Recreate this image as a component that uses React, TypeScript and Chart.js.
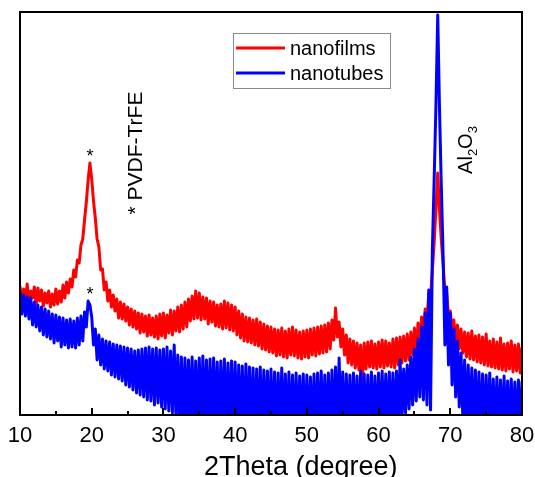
import React, { useEffect, useRef } from 'react';
import { Chart, registerables } from 'chart.js';

Chart.register(...registerables);

const FONT = '"Liberation Sans", Arial, Helvetica, sans-serif';

// 2-theta sampling grid (degrees)
const TWO_THETA_START = 10;
const TWO_THETA_STEP = 0.25;

const X_MIN = 10;
const X_MAX = 80;
const X_MINOR_TICKS = [15, 25, 35, 45, 55, 65, 75];
const Y_MIN = 0;
const Y_MAX = 403;

const X_TITLE = '2Theta (degree)';
const SERIES_LABELS = ['nanofilms', 'nanotubes'];
const SERIES_COLORS = ['#ff0000', '#0000ff'];

// intensity (a.u.), one value per 0.25 degree from 10 to 80
const NANOFILMS = [
  129, 113, 126, 115, 131, 112, 124, 117, 128, 110, 127, 114, 125, 109, 122, 112,
  124, 108, 121, 110, 126, 111, 124, 113, 130, 117, 133, 122, 136, 128, 145, 138,
  155, 152, 170, 176, 195, 213, 235, 252, 236, 214, 197, 176, 168, 145, 146, 125,
  133, 114, 125, 108, 120, 104, 116, 97, 113, 96, 111, 94, 108, 90, 106, 88,
  104, 86, 102, 82, 101, 83, 99, 79, 100, 80, 97, 78, 99, 76, 101, 79,
  102, 77, 100, 82, 105, 80, 104, 84, 108, 83, 110, 86, 113, 88, 116, 94,
  119, 96, 124, 97, 122, 95, 118, 96, 117, 91, 114, 93, 113, 89, 110, 88,
  111, 86, 114, 87, 112, 85, 110, 84, 108, 80, 104, 77, 101, 74, 98, 73,
  97, 72, 95, 70, 96, 69, 93, 66, 91, 65, 89, 63, 88, 62, 86, 59,
  85, 60, 87, 58, 84, 57, 86, 60, 88, 59, 85, 57, 83, 56, 84, 58,
  85, 57, 86, 60, 87, 59, 88, 61, 89, 62, 90, 63, 92, 66, 95, 75,
  107, 78, 93, 68, 86, 60, 80, 52, 76, 50, 74, 47, 72, 45, 70, 35,
  72, 46, 73, 48, 74, 47, 71, 46, 73, 48, 75, 47, 74, 49, 72, 48,
  76, 47, 77, 50, 78, 52, 79, 54, 81, 55, 83, 60, 87, 64, 92, 72,
  98, 82, 106, 96, 122, 118, 145, 172, 206, 242, 204, 175, 150, 125, 122, 100,
  104, 84, 95, 72, 90, 66, 86, 62, 83, 58, 82, 56, 84, 55, 79, 53,
  80, 52, 78, 50, 81, 49, 74, 48, 76, 47, 73, 46, 77, 45, 71, 44,
  72, 46, 74, 43, 70, 44, 71, 42, 68,
];

const NANOTUBES = [
  124, 101, 120, 99, 118, 96, 117, 90, 113, 88, 110, 84, 108, 80, 106, 78,
  104, 76, 101, 72, 100, 74, 98, 68, 97, 70, 95, 67, 96, 68, 94, 67,
  97, 70, 99, 74, 103, 88, 114, 110, 98, 70, 86, 55, 80, 50, 76, 46,
  74, 44, 73, 40, 71, 38, 70, 36, 69, 34, 68, 30, 67, 28, 66, 25,
  64, 22, 65, 20, 66, 18, 67, 15, 68, 14, 66, 10, 67, 12, 65, 8,
  66, 6, 68, 4, 64, 2, 70, -4, 60, -8, 58, -10, 57, -6, 55, -12,
  58, -10, 54, -14, 57, -15, 59, -12, 55, -18, 56, -15, 57, -16, 53, -18,
  54, -20, 56, -17, 52, -19, 54, -20, 53, -22, 50, -20, 49, -23, 51, -21,
  48, -22, 47, -24, 46, -25, 48, -23, 45, -24, 44, -26, 46, -25, 43, -27,
  42, -26, 47, -25, 41, -28, 43, -26, 40, -27, 42, -28, 39, -26, 41, -29,
  40, -28, 38, -27, 41, -26, 42, -28, 44, -25, 40, -27, 42, -24, 45, -22,
  48, -20, 57, -22, 43, -25, 41, -26, 40, -27, 42, -25, 39, -28, 44, -26,
  41, -25, 40, -27, 43, -24, 39, -25, 42, -23, 44, -22, 41, -20, 43, -18,
  42, -15, 44, -10, 55, -5, 46, 2, 50, 6, 58, 10, 66, 14, 76, 18,
  88, 15, 102, 10, 125, 5, 165, 235, 310, 400, 305, 228, 160, 70, 128, 50,
  102, 30, 86, 18, 74, 8, 62, -5, 55, -12, 50, -18, 47, -20, 45, -22,
  43, -24, 41, -23, 40, -25, 42, -24, 36, -26, 38, -25, 35, -24, 39, -26,
  34, -25, 36, -23, 33, -24, 35, -22, 34,
];

// annotation anchors in data coordinates
const PEAK_MARKS = [
  { x: 19.75, y: 263 },
  { x: 19.75, y: 125 },
];
const PVDF_LABEL = { text: '* PVDF-TrFE', x: 27.0, y: 262 };
const AL2O3_LABEL = { x: 73.0, y: 265 };

const toPoints = (vals: number[]) =>
  vals.map((v, i) => ({ x: TWO_THETA_START + i * TWO_THETA_STEP, y: v }));

const decorPlugin = {
  id: 'decor',
  afterDatasetsDraw(chart: any) {
    const { ctx, chartArea: a, scales } = chart;
    const xs = scales.x;
    const ys = scales.y;
    ctx.save();

    // frame
    ctx.strokeStyle = '#000';
    ctx.lineWidth = 2;
    ctx.strokeRect(a.left, a.top, a.right - a.left, a.bottom - a.top);

    // inward ticks on bottom axis
    ctx.beginPath();
    for (const t of xs.ticks) {
      const px = Math.round(xs.getPixelForValue(t.value));
      ctx.moveTo(px, a.bottom);
      ctx.lineTo(px, a.bottom - 7);
    }
    for (const t of X_MINOR_TICKS) {
      const px = Math.round(xs.getPixelForValue(t));
      ctx.moveTo(px, a.bottom);
      ctx.lineTo(px, a.bottom - 4);
    }
    ctx.stroke();

    // asterisks above peaks
    ctx.fillStyle = '#000';
    ctx.font = `18px ${FONT}`;
    ctx.textAlign = 'center';
    ctx.textBaseline = 'alphabetic';
    for (const m of PEAK_MARKS) {
      ctx.fillText('*', xs.getPixelForValue(m.x), ys.getPixelForValue(m.y) + 10);
    }

    // rotated PVDF-TrFE label
    ctx.save();
    ctx.translate(xs.getPixelForValue(PVDF_LABEL.x), ys.getPixelForValue(PVDF_LABEL.y));
    ctx.rotate(-Math.PI / 2);
    ctx.font = `21px ${FONT}`;
    ctx.textAlign = 'center';
    ctx.fillText(PVDF_LABEL.text, 0, 0);
    ctx.restore();

    // rotated Al2O3 label with subscripts
    ctx.save();
    ctx.translate(xs.getPixelForValue(AL2O3_LABEL.x), ys.getPixelForValue(AL2O3_LABEL.y));
    ctx.rotate(-Math.PI / 2);
    const parts = [
      { t: 'Al', size: 20, dy: 0 },
      { t: '2', size: 13, dy: 5 },
      { t: 'O', size: 20, dy: 0 },
      { t: '3', size: 13, dy: 5 },
    ];
    let total = 0;
    for (const p of parts) {
      ctx.font = `${p.size}px ${FONT}`;
      total += ctx.measureText(p.t).width;
    }
    let cx = -total / 2;
    ctx.textAlign = 'left';
    for (const p of parts) {
      ctx.font = `${p.size}px ${FONT}`;
      ctx.fillText(p.t, cx, p.dy);
      cx += ctx.measureText(p.t).width;
    }
    ctx.restore();

    // axis title
    ctx.fillStyle = '#000';
    ctx.font = `27px ${FONT}`;
    ctx.textAlign = 'left';
    ctx.textBaseline = 'alphabetic';
    ctx.fillText(X_TITLE, 204, 475);

    // legend box
    ctx.strokeStyle = '#8a8a8a';
    ctx.lineWidth = 1;
    ctx.strokeRect(233.5, 33.5, 157, 55);
    ctx.font = `20px ${FONT}`;
    ctx.textAlign = 'left';
    ctx.textBaseline = 'middle';
    SERIES_LABELS.forEach((label, i) => {
      const yy = 48 + i * 25;
      ctx.strokeStyle = SERIES_COLORS[i];
      ctx.lineWidth = 3;
      ctx.beginPath();
      ctx.moveTo(236, yy);
      ctx.lineTo(285, yy);
      ctx.stroke();
      ctx.fillStyle = '#000';
      ctx.fillText(label, 290, yy + 1);
    });

    ctx.restore();
  },
};

export default function App() {
  const ref = useRef<HTMLCanvasElement | null>(null);

  useEffect(() => {
    document.body.style.margin = '0';
    if (!ref.current) return;
    const chart = new Chart(ref.current, {
      type: 'line',
      data: {
        datasets: [
          {
            label: SERIES_LABELS[0],
            data: toPoints(NANOFILMS),
            borderColor: SERIES_COLORS[0],
            borderWidth: 3,
            pointRadius: 0,
            tension: 0,
            borderJoinStyle: 'round',
            clip: 0,
            order: 2,
          },
          {
            label: SERIES_LABELS[1],
            data: toPoints(NANOTUBES),
            borderColor: SERIES_COLORS[1],
            borderWidth: 3,
            pointRadius: 0,
            tension: 0,
            borderJoinStyle: 'round',
            clip: 0,
            order: 1,
          },
        ],
      },
      options: {
        animation: false,
        responsive: false,
        events: [],
        layout: { padding: { left: 20, right: 13, top: 12, bottom: 0 } },
        plugins: { legend: { display: false }, tooltip: { enabled: false } },
        scales: {
          x: {
            type: 'linear',
            min: X_MIN,
            max: X_MAX,
            afterFit: (s: any) => {
              s.height = 62;
              s.paddingLeft = 0;
              s.paddingRight = 0;
            },
            grid: { display: false, drawTicks: false },
            border: { display: false },
            ticks: {
              stepSize: 10,
              padding: 8,
              color: '#000',
              maxRotation: 0,
              autoSkip: false,
              font: { family: FONT, size: 22 },
            },
            title: { display: false },
          },
          y: { display: false, min: Y_MIN, max: Y_MAX },
        },
      },
      plugins: [decorPlugin],
    });
    return () => chart.destroy();
  }, []);

  return (
    <div style={{ width: 535, height: 477 }}>
      <canvas ref={ref} width={535} height={477} />
    </div>
  );
}
